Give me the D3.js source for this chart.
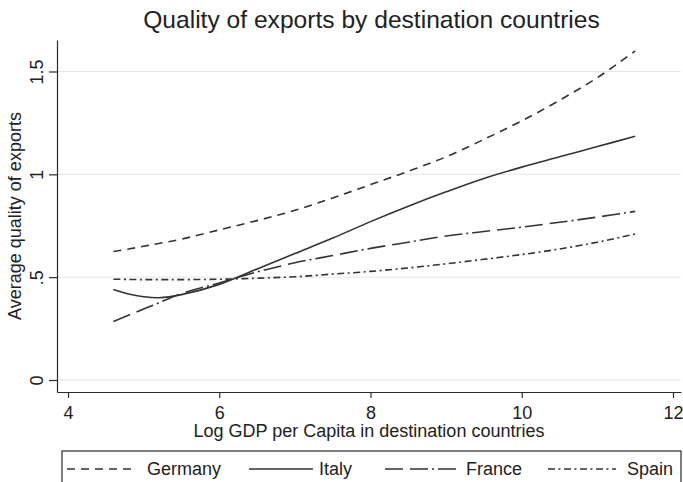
<!DOCTYPE html>
<html>
<head>
<meta charset="utf-8">
<script src="https://cdn.jsdelivr.net/npm/d3@7"></script>
<style>
  html, body { margin: 0; padding: 0; background: #fff; }
  svg { display: block; font-family: "Liberation Sans", Arial, sans-serif; }
</style>
</head>
<body>
<svg id="chart" width="683" height="482"></svg>
<script>
// ---- data ----
const gdp = [4.6, 4.8, 5, 5.2, 5.5, 6, 6.5, 7, 7.5, 8, 8.5, 9, 9.5, 10, 10.5, 11, 11.5];
const germany = [0.625, 0.637, 0.650, 0.664, 0.685, 0.730, 0.775, 0.825, 0.885, 0.950, 1.015, 1.085, 1.170, 1.260, 1.360, 1.470, 1.600];
const italy   = [0.440, 0.418, 0.405, 0.400, 0.415, 0.465, 0.540, 0.615, 0.690, 0.770, 0.845, 0.915, 0.980, 1.035, 1.085, 1.135, 1.185];
const france  = [0.285, 0.315, 0.345, 0.375, 0.420, 0.472, 0.525, 0.570, 0.605, 0.640, 0.670, 0.700, 0.722, 0.743, 0.767, 0.792, 0.820];
const spain   = [0.490, 0.489, 0.488, 0.488, 0.488, 0.490, 0.495, 0.502, 0.515, 0.528, 0.545, 0.565, 0.587, 0.610, 0.637, 0.670, 0.710];
const seriesNames = ["Germany", "Italy", "France", "Spain"];
const xTicks = [4, 6, 8, 10, 12];
const yTicks = [0, 0.5, 1, 1.5];
const yTickLabels = ["0", ".5", "1", "1.5"];
const titleText = "Quality of exports by destination countries";
const xTitleText = "Log GDP per Capita in destination countries";
const yTitleText = "Average quality of exports";

// ---- layout ----
const svg = d3.select("#chart");
const pL = 57, pR = 681, pT = 40, pB = 392;
const ink = "#2b2b2b";
const lineInk = "#333";

const x = d3.scaleLinear().domain([3.8545, 12.1058]).range([pL, pR]);
const y = d3.scaleLinear().domain([-0.0583, 1.6531]).range([pB, pT]);

const styles = {
  Germany: { data: germany, dash: "8,6" },
  Italy:   { data: italy,   dash: null },
  France:  { data: france,  dash: "18,7,18,4,2,4" },
  Spain:   { data: spain,   dash: "7,3.5,2,3.5" }
};

// gridlines
svg.append("g").selectAll("line").data(yTicks).join("line")
  .attr("x1", pL).attr("x2", pR)
  .attr("y1", d => y(d)).attr("y2", d => y(d))
  .attr("stroke", "#e6e6e6").attr("stroke-width", 1);

// x axis
const xAxis = svg.append("g").attr("transform", `translate(0,${pB})`)
  .call(d3.axisBottom(x).tickValues(xTicks).tickFormat(d3.format("d")).tickSize(6).tickSizeOuter(0).tickPadding(8));
xAxis.select(".domain").attr("stroke", ink).attr("stroke-width", 1.2);
xAxis.selectAll(".tick line").attr("stroke", ink).attr("stroke-width", 1.2);
xAxis.selectAll(".tick text").attr("fill", "#222").attr("font-size", 18)
  .attr("font-family", "Liberation Sans, Arial, sans-serif");

// y axis
const yAxis = svg.append("g").attr("transform", `translate(${pL},0)`)
  .call(d3.axisLeft(y).tickValues(yTicks).tickFormat((d, i) => yTickLabels[i]).tickSize(8).tickSizeOuter(0));
yAxis.select(".domain").attr("stroke", ink).attr("stroke-width", 1.2);
yAxis.selectAll(".tick line").attr("stroke", ink).attr("stroke-width", 1.2);
yAxis.selectAll(".tick text")
  .attr("fill", "#222").attr("font-size", 18)
  .attr("font-family", "Liberation Sans, Arial, sans-serif")
  .attr("x", null).attr("dy", null)
  .attr("text-anchor", "middle")
  .attr("transform", "translate(-14,0) rotate(-90)");

// lines
const lineGen = d3.line().x(d => x(d[0])).y(d => y(d[1])).curve(d3.curveCatmullRom.alpha(0.5));
seriesNames.forEach(name => {
  const s = styles[name];
  const pts = gdp.map((g, i) => [g, s.data[i]]);
  svg.append("path").datum(pts)
    .attr("d", lineGen)
    .attr("fill", "none")
    .attr("stroke", lineInk)
    .attr("stroke-width", 1.6)
    .attr("stroke-dasharray", s.dash);
});

// title
svg.append("text").attr("x", 371.5).attr("y", 28)
  .attr("text-anchor", "middle").attr("font-size", 24.6).attr("fill", "#222")
  .text(titleText);

// axis titles
svg.append("text").attr("x", (pL + pR) / 2).attr("y", 437)
  .attr("text-anchor", "middle").attr("font-size", 18).attr("fill", "#222")
  .text(xTitleText);
svg.append("text").attr("transform", `translate(21,${(pT + pB) / 2}) rotate(-90)`)
  .attr("text-anchor", "middle").attr("font-size", 18).attr("fill", "#222")
  .text(yTitleText);

// legend
svg.append("rect").attr("x", 62).attr("y", 451).attr("width", 619).attr("height", 45)
  .attr("fill", "none").attr("stroke", ink).attr("stroke-width", 1.2);
const legendItems = [
  { name: "Germany", x1: 67, x2: 137, tx: 147 },
  { name: "Italy",   x1: 249, x2: 313, tx: 319 },
  { name: "France",  x1: 385, x2: 457, tx: 466 },
  { name: "Spain",   x1: 548, x2: 616, tx: 627 }
];
const lg = svg.append("g");
legendItems.forEach(it => {
  lg.append("line").attr("x1", it.x1).attr("x2", it.x2).attr("y1", 469).attr("y2", 469)
    .attr("stroke", lineInk).attr("stroke-width", 1.5)
    .attr("stroke-dasharray", styles[it.name].dash);
  lg.append("text").attr("x", it.tx).attr("y", 475)
    .attr("font-size", 18).attr("fill", "#222").text(it.name);
});
</script>
</body>
</html>
